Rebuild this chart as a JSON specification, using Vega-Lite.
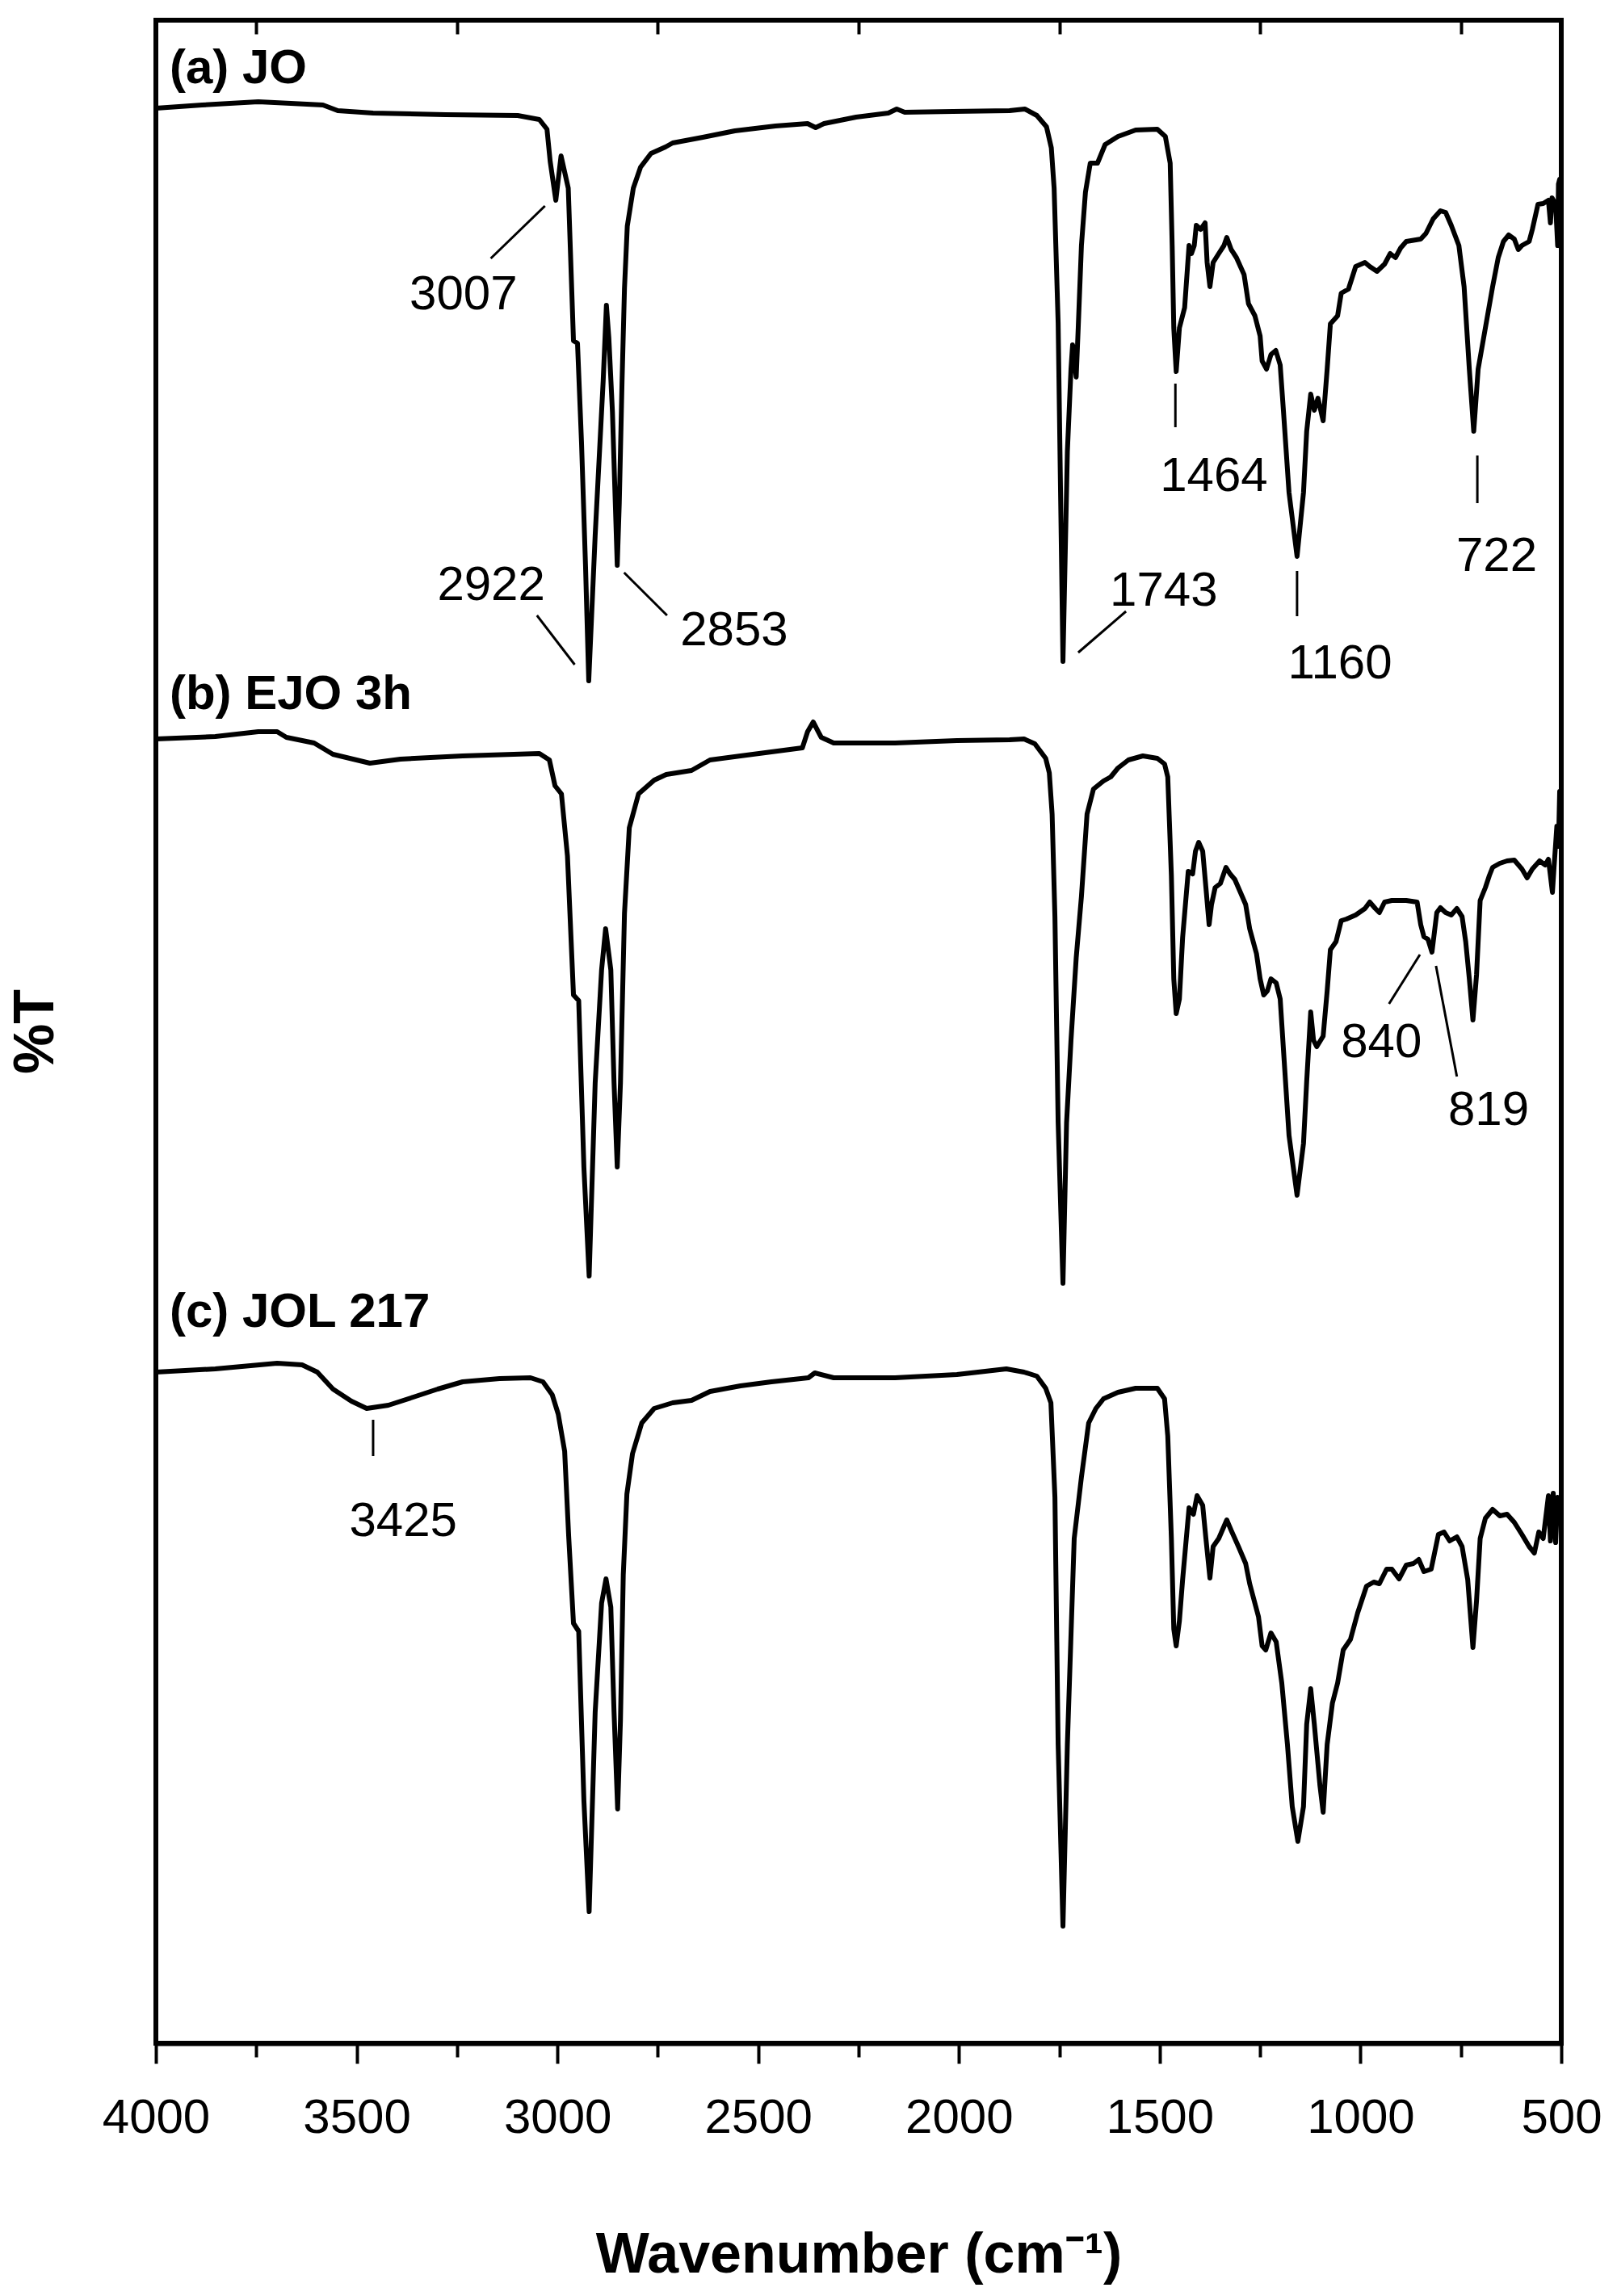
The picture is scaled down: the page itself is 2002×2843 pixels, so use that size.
{
  "$schema": "https://vega.github.io/schema/vega-lite/v6.json",
  "width": 1740,
  "height": 2505,
  "autosize": {"type": "none"},
  "padding": {"left": 193, "top": 25, "right": 69, "bottom": 313},
  "background": "white",
  "config": {
    "font": "Liberation Sans",
    "view": {"stroke": "black", "strokeWidth": 6},
    "axis": {"grid": false},
    "axisY": {"labels": false, "ticks": false, "domain": false, "grid": false}
  },
  "datasets": {
    "spectra": [
      {"s":"a","w":4000,"t":2396},{"s":"a","w":3885,"t":2400},{"s":"a","w":3745,"t":2404},{"s":"a","w":3664,"t":2402},{"s":"a","w":3584,"t":2400},{"s":"a","w":3547,"t":2393},{"s":"a","w":3459,"t":2390},{"s":"a","w":3278,"t":2388},{"s":"a","w":3099,"t":2387},{"s":"a","w":3045,"t":2382},{"s":"a","w":3026,"t":2370},{"s":"a","w":3018,"t":2330},{"s":"a","w":3004,"t":2282},{"s":"a","w":2991,"t":2337},{"s":"a","w":2973,"t":2297},{"s":"a","w":2960,"t":2108},{"s":"a","w":2950,"t":2105},{"s":"a","w":2940,"t":1982},{"s":"a","w":2930,"t":1829},{"s":"a","w":2922,"t":1687},{"s":"a","w":2906,"t":1867},{"s":"a","w":2886,"t":2059},{"s":"a","w":2878,"t":2152},{"s":"a","w":2872,"t":2112},{"s":"a","w":2863,"t":2020},{"s":"a","w":2851,"t":1830},{"s":"a","w":2846,"t":1906},{"s":"a","w":2839,"t":2059},{"s":"a","w":2833,"t":2173},{"s":"a","w":2826,"t":2250},{"s":"a","w":2811,"t":2297},{"s":"a","w":2793,"t":2323},{"s":"a","w":2767,"t":2340},{"s":"a","w":2731,"t":2348},{"s":"a","w":2713,"t":2353},{"s":"a","w":2638,"t":2360},{"s":"a","w":2558,"t":2368},{"s":"a","w":2457,"t":2374},{"s":"a","w":2377,"t":2377},{"s":"a","w":2357,"t":2372},{"s":"a","w":2336,"t":2377},{"s":"a","w":2256,"t":2385},{"s":"a","w":2176,"t":2390},{"s":"a","w":2155,"t":2395},{"s":"a","w":2135,"t":2391},{"s":"a","w":2015,"t":2392},{"s":"a","w":1874,"t":2393},{"s":"a","w":1836,"t":2395},{"s":"a","w":1806,"t":2387},{"s":"a","w":1782,"t":2373},{"s":"a","w":1770,"t":2347},{"s":"a","w":1763,"t":2297},{"s":"a","w":1753,"t":2130},{"s":"a","w":1741,"t":1711},{"s":"a","w":1730,"t":1971},{"s":"a","w":1721,"t":2073},{"s":"a","w":1717,"t":2103},{"s":"a","w":1708,"t":2063},{"s":"a","w":1703,"t":2124},{"s":"a","w":1695,"t":2226},{"s":"a","w":1685,"t":2292},{"s":"a","w":1673,"t":2328},{"s":"a","w":1655,"t":2328},{"s":"a","w":1636,"t":2351},{"s":"a","w":1604,"t":2361},{"s":"a","w":1560,"t":2369},{"s":"a","w":1506,"t":2370},{"s":"a","w":1486,"t":2361},{"s":"a","w":1474,"t":2328},{"s":"a","w":1469,"t":2226},{"s":"a","w":1465,"t":2124},{"s":"a","w":1459,"t":2070},{"s":"a","w":1451,"t":2124},{"s":"a","w":1438,"t":2149},{"s":"a","w":1427,"t":2226},{"s":"a","w":1421,"t":2216},{"s":"a","w":1414,"t":2226},{"s":"a","w":1409,"t":2251},{"s":"a","w":1398,"t":2246},{"s":"a","w":1387,"t":2254},{"s":"a","w":1382,"t":2205},{"s":"a","w":1375,"t":2175},{"s":"a","w":1367,"t":2205},{"s":"a","w":1353,"t":2216},{"s":"a","w":1340,"t":2226},{"s":"a","w":1333,"t":2236},{"s":"a","w":1322,"t":2221},{"s":"a","w":1309,"t":2211},{"s":"a","w":1290,"t":2190},{"s":"a","w":1279,"t":2154},{"s":"a","w":1263,"t":2139},{"s":"a","w":1250,"t":2114},{"s":"a","w":1245,"t":2083},{"s":"a","w":1234,"t":2073},{"s":"a","w":1223,"t":2091},{"s":"a","w":1211,"t":2096},{"s":"a","w":1200,"t":2078},{"s":"a","w":1192,"t":2022},{"s":"a","w":1178,"t":1920},{"s":"a","w":1158,"t":1841},{"s":"a","w":1142,"t":1920},{"s":"a","w":1134,"t":1996},{"s":"a","w":1124,"t":2042},{"s":"a","w":1115,"t":2022},{"s":"a","w":1106,"t":2037},{"s":"a","w":1093,"t":2009},{"s":"a","w":1083,"t":2073},{"s":"a","w":1075,"t":2129},{"s":"a","w":1057,"t":2139},{"s":"a","w":1048,"t":2167},{"s":"a","w":1030,"t":2172},{"s":"a","w":1012,"t":2200},{"s":"a","w":989,"t":2205},{"s":"a","w":977,"t":2200},{"s":"a","w":959,"t":2194},{"s":"a","w":940,"t":2203},{"s":"a","w":926,"t":2216},{"s":"a","w":913,"t":2211},{"s":"a","w":900,"t":2223},{"s":"a","w":886,"t":2231},{"s":"a","w":850,"t":2234},{"s":"a","w":837,"t":2241},{"s":"a","w":819,"t":2259},{"s":"a","w":801,"t":2269},{"s":"a","w":788,"t":2267},{"s":"a","w":774,"t":2251},{"s":"a","w":755,"t":2226},{"s":"a","w":742,"t":2175},{"s":"a","w":729,"t":2073},{"s":"a","w":718,"t":1996},{"s":"a","w":707,"t":2073},{"s":"a","w":689,"t":2124},{"s":"a","w":671,"t":2175},{"s":"a","w":657,"t":2211},{"s":"a","w":644,"t":2231},{"s":"a","w":631,"t":2239},{"s":"a","w":617,"t":2234},{"s":"a","w":607,"t":2221},{"s":"a","w":598,"t":2226},{"s":"a","w":580,"t":2231},{"s":"a","w":572,"t":2246},{"s":"a","w":558,"t":2277},{"s":"a","w":545,"t":2278},{"s":"a","w":532,"t":2282},{"s":"a","w":527,"t":2254},{"s":"a","w":523,"t":2285},{"s":"a","w":514,"t":2277},{"s":"a","w":509,"t":2226},{"s":"a","w":507,"t":2302},{"s":"a","w":504,"t":2308},{"s":"a","w":502,"t":2225},{"s":"a","w":500,"t":2290},
      {"s":"b","w":4000,"t":1615},{"s":"b","w":3852,"t":1618},{"s":"b","w":3745,"t":1624},{"s":"b","w":3698,"t":1624},{"s":"b","w":3675,"t":1617},{"s":"b","w":3606,"t":1610},{"s":"b","w":3559,"t":1596},{"s":"b","w":3467,"t":1585},{"s":"b","w":3391,"t":1590},{"s":"b","w":3236,"t":1594},{"s":"b","w":3045,"t":1597},{"s":"b","w":3020,"t":1589},{"s":"b","w":3006,"t":1557},{"s":"b","w":2990,"t":1547},{"s":"b","w":2975,"t":1470},{"s":"b","w":2960,"t":1298},{"s":"b","w":2947,"t":1291},{"s":"b","w":2934,"t":1084},{"s":"b","w":2921,"t":950},{"s":"b","w":2906,"t":1189},{"s":"b","w":2890,"t":1329},{"s":"b","w":2880,"t":1380},{"s":"b","w":2867,"t":1329},{"s":"b","w":2859,"t":1189},{"s":"b","w":2851,"t":1085},{"s":"b","w":2843,"t":1189},{"s":"b","w":2833,"t":1399},{"s":"b","w":2821,"t":1505},{"s":"b","w":2798,"t":1547},{"s":"b","w":2759,"t":1564},{"s":"b","w":2729,"t":1571},{"s":"b","w":2666,"t":1576},{"s":"b","w":2620,"t":1589},{"s":"b","w":2544,"t":1594},{"s":"b","w":2467,"t":1599},{"s":"b","w":2390,"t":1604},{"s":"b","w":2377,"t":1624},{"s":"b","w":2363,"t":1636},{"s":"b","w":2343,"t":1617},{"s":"b","w":2312,"t":1610},{"s":"b","w":2159,"t":1610},{"s":"b","w":2005,"t":1613},{"s":"b","w":1874,"t":1614},{"s":"b","w":1838,"t":1615},{"s":"b","w":1811,"t":1609},{"s":"b","w":1784,"t":1591},{"s":"b","w":1775,"t":1573},{"s":"b","w":1768,"t":1522},{"s":"b","w":1761,"t":1395},{"s":"b","w":1753,"t":1140},{"s":"b","w":1741,"t":941},{"s":"b","w":1732,"t":1140},{"s":"b","w":1721,"t":1242},{"s":"b","w":1708,"t":1344},{"s":"b","w":1695,"t":1420},{"s":"b","w":1681,"t":1522},{"s":"b","w":1665,"t":1553},{"s":"b","w":1640,"t":1563},{"s":"b","w":1622,"t":1568},{"s":"b","w":1604,"t":1579},{"s":"b","w":1578,"t":1589},{"s":"b","w":1542,"t":1594},{"s":"b","w":1506,"t":1591},{"s":"b","w":1488,"t":1584},{"s":"b","w":1480,"t":1568},{"s":"b","w":1471,"t":1446},{"s":"b","w":1465,"t":1318},{"s":"b","w":1459,"t":1275},{"s":"b","w":1451,"t":1293},{"s":"b","w":1443,"t":1369},{"s":"b","w":1429,"t":1451},{"s":"b","w":1418,"t":1448},{"s":"b","w":1411,"t":1476},{"s":"b","w":1403,"t":1487},{"s":"b","w":1393,"t":1476},{"s":"b","w":1385,"t":1431},{"s":"b","w":1377,"t":1385},{"s":"b","w":1371,"t":1410},{"s":"b","w":1362,"t":1431},{"s":"b","w":1349,"t":1436},{"s":"b","w":1335,"t":1456},{"s":"b","w":1325,"t":1448},{"s":"b","w":1313,"t":1441},{"s":"b","w":1299,"t":1425},{"s":"b","w":1286,"t":1410},{"s":"b","w":1276,"t":1380},{"s":"b","w":1259,"t":1349},{"s":"b","w":1250,"t":1318},{"s":"b","w":1241,"t":1298},{"s":"b","w":1232,"t":1303},{"s":"b","w":1223,"t":1318},{"s":"b","w":1210,"t":1313},{"s":"b","w":1200,"t":1293},{"s":"b","w":1190,"t":1216},{"s":"b","w":1178,"t":1124},{"s":"b","w":1158,"t":1050},{"s":"b","w":1142,"t":1114},{"s":"b","w":1134,"t":1191},{"s":"b","w":1124,"t":1277},{"s":"b","w":1117,"t":1242},{"s":"b","w":1109,"t":1234},{"s":"b","w":1093,"t":1247},{"s":"b","w":1083,"t":1303},{"s":"b","w":1075,"t":1354},{"s":"b","w":1061,"t":1364},{"s":"b","w":1048,"t":1390},{"s":"b","w":1035,"t":1392},{"s":"b","w":1012,"t":1397},{"s":"b","w":989,"t":1405},{"s":"b","w":977,"t":1413},{"s":"b","w":963,"t":1405},{"s":"b","w":953,"t":1400},{"s":"b","w":940,"t":1413},{"s":"b","w":922,"t":1415},{"s":"b","w":886,"t":1415},{"s":"b","w":859,"t":1413},{"s":"b","w":850,"t":1385},{"s":"b","w":842,"t":1370},{"s":"b","w":832,"t":1367},{"s":"b","w":822,"t":1351},{"s":"b","w":810,"t":1400},{"s":"b","w":801,"t":1406},{"s":"b","w":788,"t":1400},{"s":"b","w":774,"t":1397},{"s":"b","w":760,"t":1405},{"s":"b","w":747,"t":1395},{"s":"b","w":738,"t":1364},{"s":"b","w":729,"t":1318},{"s":"b","w":720,"t":1267},{"s":"b","w":711,"t":1323},{"s":"b","w":702,"t":1415},{"s":"b","w":689,"t":1431},{"s":"b","w":679,"t":1446},{"s":"b","w":671,"t":1456},{"s":"b","w":653,"t":1461},{"s":"b","w":635,"t":1464},{"s":"b","w":617,"t":1465},{"s":"b","w":598,"t":1454},{"s":"b","w":585,"t":1443},{"s":"b","w":572,"t":1454},{"s":"b","w":554,"t":1464},{"s":"b","w":540,"t":1459},{"s":"b","w":532,"t":1466},{"s":"b","w":522,"t":1425},{"s":"b","w":518,"t":1456},{"s":"b","w":511,"t":1507},{"s":"b","w":507,"t":1482},{"s":"b","w":504,"t":1550},{"s":"b","w":500,"t":1510},
      {"s":"c","w":4000,"t":831},{"s":"c","w":3852,"t":835},{"s":"c","w":3698,"t":842},{"s":"c","w":3636,"t":840},{"s":"c","w":3598,"t":831},{"s":"c","w":3559,"t":810},{"s":"c","w":3513,"t":795},{"s":"c","w":3475,"t":786},{"s":"c","w":3421,"t":790},{"s":"c","w":3359,"t":800},{"s":"c","w":3298,"t":810},{"s":"c","w":3236,"t":819},{"s":"c","w":3144,"t":823},{"s":"c","w":3067,"t":824},{"s":"c","w":3036,"t":819},{"s":"c","w":3013,"t":803},{"s":"c","w":2998,"t":779},{"s":"c","w":2982,"t":733},{"s":"c","w":2972,"t":628},{"s":"c","w":2960,"t":520},{"s":"c","w":2947,"t":510},{"s":"c","w":2934,"t":300},{"s":"c","w":2921,"t":163},{"s":"c","w":2906,"t":410},{"s":"c","w":2890,"t":545},{"s":"c","w":2879,"t":575},{"s":"c","w":2867,"t":540},{"s":"c","w":2859,"t":410},{"s":"c","w":2850,"t":290},{"s":"c","w":2843,"t":400},{"s":"c","w":2836,"t":580},{"s":"c","w":2827,"t":680},{"s":"c","w":2813,"t":730},{"s":"c","w":2790,"t":768},{"s":"c","w":2759,"t":786},{"s":"c","w":2713,"t":793},{"s":"c","w":2666,"t":796},{"s":"c","w":2620,"t":807},{"s":"c","w":2544,"t":814},{"s":"c","w":2467,"t":819},{"s":"c","w":2375,"t":824},{"s":"c","w":2359,"t":830},{"s":"c","w":2312,"t":824},{"s":"c","w":2159,"t":824},{"s":"c","w":2005,"t":828},{"s":"c","w":1882,"t":835},{"s":"c","w":1838,"t":831},{"s":"c","w":1806,"t":826},{"s":"c","w":1784,"t":811},{"s":"c","w":1771,"t":793},{"s":"c","w":1761,"t":676},{"s":"c","w":1753,"t":370},{"s":"c","w":1741,"t":145},{"s":"c","w":1730,"t":370},{"s":"c","w":1713,"t":625},{"s":"c","w":1695,"t":701},{"s":"c","w":1677,"t":768},{"s":"c","w":1659,"t":786},{"s":"c","w":1640,"t":798},{"s":"c","w":1604,"t":806},{"s":"c","w":1560,"t":811},{"s":"c","w":1506,"t":811},{"s":"c","w":1488,"t":798},{"s":"c","w":1480,"t":752},{"s":"c","w":1471,"t":625},{"s":"c","w":1465,"t":513},{"s":"c","w":1459,"t":492},{"s":"c","w":1451,"t":523},{"s":"c","w":1443,"t":574},{"s":"c","w":1427,"t":663},{"s":"c","w":1416,"t":655},{"s":"c","w":1407,"t":678},{"s":"c","w":1393,"t":666},{"s":"c","w":1385,"t":625},{"s":"c","w":1375,"t":576},{"s":"c","w":1367,"t":615},{"s":"c","w":1353,"t":625},{"s":"c","w":1333,"t":648},{"s":"c","w":1322,"t":635},{"s":"c","w":1304,"t":615},{"s":"c","w":1286,"t":594},{"s":"c","w":1276,"t":569},{"s":"c","w":1254,"t":528},{"s":"c","w":1245,"t":492},{"s":"c","w":1236,"t":487},{"s":"c","w":1223,"t":508},{"s":"c","w":1210,"t":497},{"s":"c","w":1196,"t":446},{"s":"c","w":1182,"t":370},{"s":"c","w":1170,"t":293},{"s":"c","w":1156,"t":250},{"s":"c","w":1142,"t":293},{"s":"c","w":1134,"t":395},{"s":"c","w":1124,"t":439},{"s":"c","w":1115,"t":395},{"s":"c","w":1101,"t":319},{"s":"c","w":1093,"t":286},{"s":"c","w":1083,"t":370},{"s":"c","w":1070,"t":421},{"s":"c","w":1057,"t":446},{"s":"c","w":1043,"t":487},{"s":"c","w":1025,"t":500},{"s":"c","w":1007,"t":533},{"s":"c","w":985,"t":566},{"s":"c","w":967,"t":571},{"s":"c","w":953,"t":569},{"s":"c","w":935,"t":587},{"s":"c","w":922,"t":587},{"s":"c","w":904,"t":575},{"s":"c","w":886,"t":592},{"s":"c","w":868,"t":594},{"s":"c","w":855,"t":599},{"s":"c","w":842,"t":584},{"s":"c","w":824,"t":587},{"s":"c","w":806,"t":630},{"s":"c","w":792,"t":633},{"s":"c","w":778,"t":622},{"s":"c","w":760,"t":627},{"s":"c","w":747,"t":615},{"s":"c","w":733,"t":574},{"s":"c","w":720,"t":490},{"s":"c","w":711,"t":548},{"s":"c","w":702,"t":625},{"s":"c","w":689,"t":650},{"s":"c","w":671,"t":661},{"s":"c","w":653,"t":653},{"s":"c","w":635,"t":655},{"s":"c","w":617,"t":645},{"s":"c","w":598,"t":630},{"s":"c","w":580,"t":615},{"s":"c","w":567,"t":607},{"s":"c","w":556,"t":633},{"s":"c","w":545,"t":625},{"s":"c","w":532,"t":678},{"s":"c","w":527,"t":622},{"s":"c","w":520,"t":681},{"s":"c","w":514,"t":620},{"s":"c","w":509,"t":676},{"s":"c","w":500,"t":650}
    ],
    "leaders": [
      {"w":3166,"t":2210,"w2":3031,"t2":2275},
      {"w":3051,"t":1768,"w2":2957,"t2":1707},
      {"w":2834,"t":1821,"w2":2727,"t2":1768},
      {"w":1703,"t":1722,"w2":1584,"t2":1773},
      {"w":1461,"t":2055,"w2":1461,"t2":2001},
      {"w":1158,"t":1823,"w2":1158,"t2":1767},
      {"w":709,"t":1966,"w2":709,"t2":1907},
      {"w":929,"t":1287,"w2":852,"t2":1348},
      {"w":812,"t":1334,"w2":760,"t2":1197},
      {"w":3459,"t":772,"w2":3459,"t2":727}
    ],
    "peaks": [
      {"label":"3007","w":3234,"t":2147},
      {"label":"2922","w":3165,"t":1787},
      {"label":"2853","w":2560,"t":1731},
      {"label":"1743","w":1490,"t":1780},
      {"label":"1464","w":1365,"t":1922},
      {"label":"1160","w":1051,"t":1690},
      {"label":"722","w":661,"t":1823},
      {"label":"840","w":948,"t":1221},
      {"label":"819","w":681,"t":1137},
      {"label":"3425","w":3384,"t":628}
    ],
    "panels": [
      {"label":"(a) JO","w":3966,"t":2427},
      {"label":"(b) EJO 3h","w":3966,"t":1652},
      {"label":"(c) JOL 217","w":3966,"t":887}
    ]
  },
  "resolve": {"axis": {"x": "independent"}},
  "layer": [
    {
      "data": {"name": "spectra"},
      "mark": {"type": "line", "color": "black", "strokeWidth": 6, "strokeJoin": "round"},
      "encoding": {
        "x": {
          "field": "w", "type": "quantitative",
          "scale": {"domain": [4000, 500], "nice": false, "zero": false},
          "axis": {
            "orient": "bottom",
            "values": [4000, 3750, 3500, 3250, 3000, 2750, 2500, 2250, 2000, 1750, 1500, 1250, 1000, 750, 500],
            "format": "d",
            "labelExpr": "datum.value % 500 === 0 ? datum.label : ''",
            "tickSize": {"condition": {"test": "datum.value % 500 === 0", "value": 25}, "value": 17},
            "tickWidth": 4,
            "tickColor": "black",
            "domainColor": "black",
            "domainWidth": 6,
            "labelFont": "Liberation Sans",
            "labelFontSize": 60,
            "labelColor": "black",
            "labelPadding": 38,
            "labelOverlap": false,
            "labelFlush": false,
            "title": "Wavenumber (cm⁻¹)",
            "titleFont": "Liberation Sans",
            "titleFontSize": 70,
            "titleFontWeight": "bold",
            "titleColor": "black",
            "titleBaseline": "alphabetic",
            "titleAlign": "center",
            "titleX": 870,
            "titleY": 283
          }
        },
        "y": {
          "field": "t", "type": "quantitative",
          "scale": {"domain": [0, 2505], "nice": false, "zero": false},
          "axis": {
            "title": "%T",
            "labels": false, "ticks": false, "domain": false, "grid": false,
            "titleFont": "Liberation Sans",
            "titleFontSize": 70,
            "titleFontWeight": "bold",
            "titleColor": "black",
            "titleAngle": 270,
            "titleBaseline": "alphabetic",
            "titleAlign": "center",
            "titleX": -128,
            "titleY": 1252
          }
        },
        "detail": {"field": "s", "type": "nominal"}
      }
    },
    {
      "data": {"name": "leaders"},
      "mark": {"type": "rule", "color": "black", "strokeWidth": 3},
      "encoding": {
        "x": {"field": "w", "type": "quantitative", "axis": null},
        "x2": {"field": "w2"},
        "y": {"field": "t", "type": "quantitative"},
        "y2": {"field": "t2"}
      }
    },
    {
      "data": {"name": "peaks"},
      "mark": {"type": "text", "font": "Liberation Sans", "fontSize": 60, "color": "black", "align": "center", "baseline": "alphabetic"},
      "encoding": {
        "x": {
          "field": "w", "type": "quantitative",
          "axis": {
            "orient": "top",
            "values": [3750, 3250, 2750, 2250, 1750, 1250, 750],
            "labels": false,
            "domain": false,
            "ticks": true,
            "offset": -17,
            "tickSize": 17,
            "tickWidth": 4,
            "tickColor": "black",
            "title": null,
            "grid": false
          }
        },
        "y": {"field": "t", "type": "quantitative"},
        "text": {"field": "label", "type": "nominal"}
      }
    },
    {
      "data": {"name": "panels"},
      "mark": {"type": "text", "font": "Liberation Sans", "fontSize": 60, "fontWeight": "bold", "color": "black", "align": "left", "baseline": "alphabetic"},
      "encoding": {
        "x": {"field": "w", "type": "quantitative", "axis": null},
        "y": {"field": "t", "type": "quantitative"},
        "text": {"field": "label", "type": "nominal"}
      }
    }
  ]
}
